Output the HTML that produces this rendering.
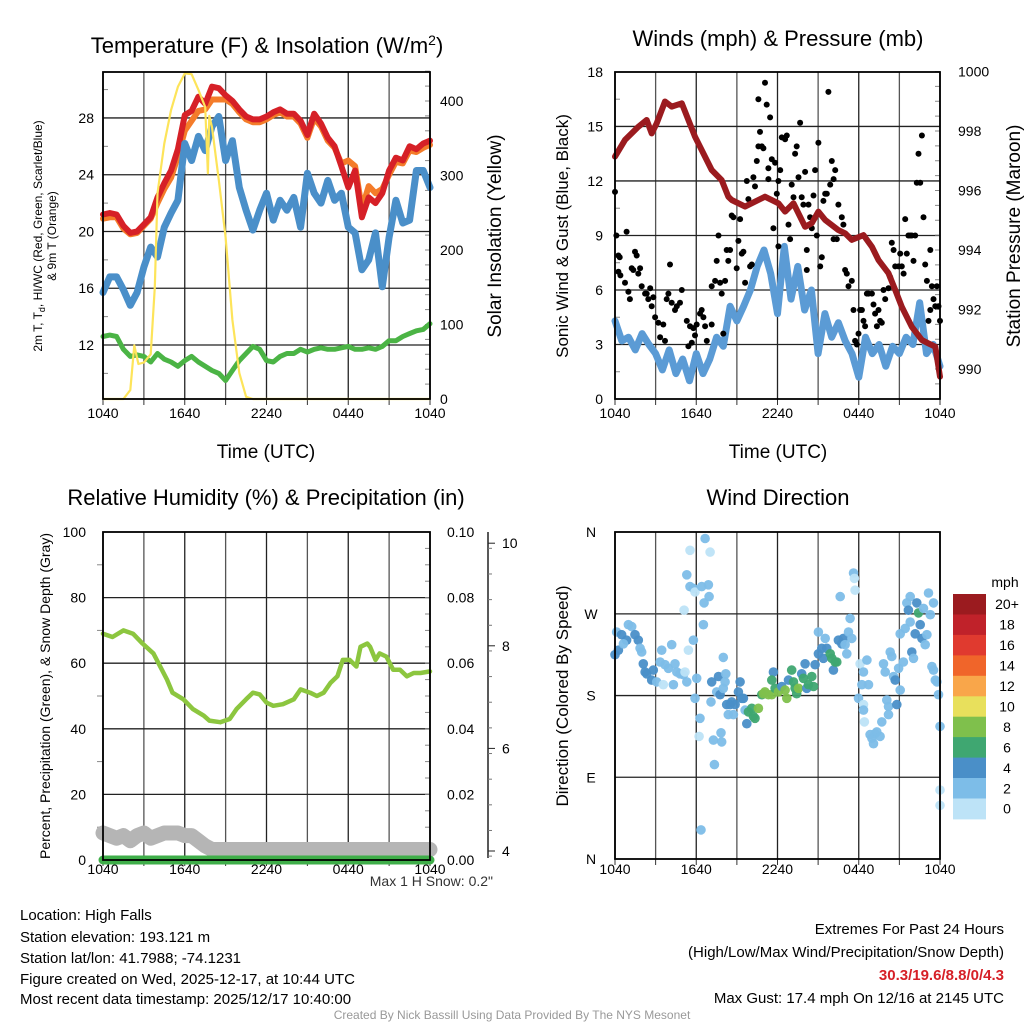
<!DOCTYPE html>
<html><head><meta charset="utf-8">
<style>
html,body{margin:0;padding:0;background:#fff;}
svg{display:block;font-family:"Liberation Sans",Arial,sans-serif;}
</style></head>
<body>
<svg id="s" width="1024" height="1024" viewBox="0 0 1024 1024" xmlns="http://www.w3.org/2000/svg">
<rect x="0" y="0" width="1024" height="1024" fill="#fff"/>
<g id="g1"></g>
<g id="g2"></g>
<g id="g3"></g>
<g id="g4"></g>
<text x="267" y="53" font-size="22" text-anchor="middle">Temperature (F) &amp; Insolation (W/m<tspan dy="-8" font-size="14">2</tspan><tspan dy="8">)</tspan></text>
<text x="778" y="46" font-size="22" text-anchor="middle">Winds (mph) &amp; Pressure (mb)</text>
<text x="266" y="505" font-size="22" text-anchor="middle">Relative Humidity (%) &amp; Precipitation (in)</text>
<text x="778" y="505" font-size="22" text-anchor="middle">Wind Direction</text>
<text x="266" y="458" font-size="19" text-anchor="middle">Time (UTC)</text>
<text x="778" y="458" font-size="19" text-anchor="middle">Time (UTC)</text>
<text transform="translate(42,236) rotate(-90)" font-size="12" text-anchor="middle">2m T, T<tspan dy="3" font-size="9">d</tspan><tspan dy="-3">, HI/WC (Red, Green, Scarlet/Blue)</tspan></text>
<text transform="translate(56,236) rotate(-90)" font-size="12" text-anchor="middle">&amp; 9m T (Orange)</text>
<text transform="translate(501,236) rotate(-90)" font-size="19" text-anchor="middle">Solar Insolation (Yellow)</text>
<text transform="translate(568,236) rotate(-90)" font-size="17" text-anchor="middle">Sonic Wind &amp; Gust (Blue, Black)</text>
<text transform="translate(1020,236) rotate(-90)" font-size="19" text-anchor="middle">Station Pressure (Maroon)</text>
<text transform="translate(50,696) rotate(-90)" font-size="14" text-anchor="middle">Percent, Precipitation (Green), &amp; Snow Depth (Gray)</text>
<text transform="translate(568,696) rotate(-90)" font-size="17" text-anchor="middle">Direction (Colored By Speed)</text>
<text x="493" y="886" font-size="14" text-anchor="end" fill="#333">Max 1 H Snow: 0.2"</text>
<g font-size="15">
<text x="20" y="920">Location: High Falls</text>
<text x="20" y="942">Station elevation: 193.121 m</text>
<text x="20" y="963">Station lat/lon: 41.7988; -74.1231</text>
<text x="20" y="984">Figure created on Wed, 2025-12-17, at 10:44 UTC</text>
<text x="20" y="1004">Most recent data timestamp: 2025/12/17 10:40:00</text>
</g>
<g font-size="15" text-anchor="end">
<text x="1004" y="934">Extremes For Past 24 Hours</text>
<text x="1004" y="957">(High/Low/Max Wind/Precipitation/Snow Depth)</text>
<text x="1004" y="980" fill="#d62027" font-weight="bold">30.3/19.6/8.8/0/4.3</text>
<text x="1004" y="1003">Max Gust: 17.4 mph On 12/16 at 2145 UTC</text>
</g>
<text x="512" y="1019" font-size="12" fill="#999" text-anchor="middle">Created By Nick Bassill Using Data Provided By The NYS Mesonet</text>
</svg>
<script>
// ---- data ----
const halfHours = [0,0.5,1,1.5,2,2.5,3,3.5,4,4.5,5,5.5,6,6.5,7,7.5,8,8.5,9,9.5,10,10.5,11,11.5,12,12.5,13,13.5,14,14.5,15,15.5,16,16.5,17,17.5,18,18.5,19,19.5,20,20.5,21,21.5,22,22.5,23,23.5,24];
const tempRed = [21.2,21.3,21.2,20.4,19.9,20.0,20.5,21.0,22.4,23.4,24.3,25.8,28.2,28.5,29.5,29.0,30.2,30.1,29.6,29.2,28.6,28.1,27.9,27.9,28.1,28.4,28.6,28.3,28.3,27.8,26.8,28.3,27.6,26.6,26.0,24.6,23.1,24.3,21.0,22.4,22.0,22.7,24.3,25.2,25.0,26.0,25.8,26.2,26.4];
const tempOrange = [20.9,21.0,21.0,20.2,19.8,19.9,20.4,20.9,22.0,23.0,23.8,25.3,27.1,27.8,28.5,28.6,29.3,29.3,29.3,29.0,28.4,27.9,27.7,27.7,27.9,28.2,28.4,28.1,28.1,27.6,26.6,28.0,27.4,26.4,25.9,24.8,25.0,24.6,21.6,23.2,22.7,23.0,24.0,24.9,24.8,25.7,25.6,25.9,26.1];
const tempBlue = [15.7,16.8,16.8,15.9,14.8,15.7,17.5,18.9,18.2,20.3,21.3,22.2,26.2,25.0,26.7,25.7,27.4,28.1,25.0,26.4,23.1,21.5,20.1,21.5,22.7,20.8,22.2,21.5,22.4,20.3,24.1,22.7,22.0,23.6,22.2,22.7,20.3,19.9,17.3,18.0,19.9,16.1,19.6,22.2,20.6,20.8,24.3,24.3,23.1];
const tempGreen = [12.6,12.7,12.6,11.7,11.2,11.3,11.2,10.8,11.4,11.0,10.8,10.5,10.9,11.2,10.8,10.5,10.2,10.0,9.5,10.2,10.9,11.4,11.9,11.7,10.9,10.8,11.2,11.4,11.4,11.7,11.5,11.7,11.8,11.7,11.7,11.8,11.9,11.7,11.7,11.8,11.7,11.9,12.3,12.3,12.6,12.8,13.0,13.1,13.5];
const solarHours = [0,1.5,2,2.3,2.6,3,3.5,3.8,4,4.5,5,5.5,6,6.5,7,7.5,7.7,7.8,8,8.5,9,9.5,10,10.5,11,24];
const solarVals = [0,0,12,72,47,49,60,150,276,343,388,419,437,436,415,392,303,380,365,294,217,106,35,3,0,0];
const windBlue = [4.3,3.2,3.4,2.7,3.6,3.0,2.5,1.6,2.7,1.4,2.2,1.0,2.5,1.4,2.2,3.4,2.9,5.1,4.3,5.1,6.0,7.3,8.2,6.9,4.7,8.4,5.5,7.3,4.9,6.0,2.5,4.7,3.4,4.2,3.2,2.5,1.2,3.4,2.5,3.0,1.8,2.9,2.5,3.4,3.0,5.3,2.5,3.0,1.8];
const presHours = [0,0.74,1.72,2.34,2.71,3.08,3.69,4.19,4.93,5.91,7.14,7.88,8.37,8.62,9.61,11.08,12.07,12.56,13.18,14.04,14.53,15.02,15.52,16.5,16.99,17.49,18.35,18.97,19.46,20.2,20.69,21.18,21.92,22.66,23.15,23.65,24];
const presVals = [997.14,997.70,998.14,998.37,997.92,998.26,998.99,998.82,998.93,997.81,996.69,996.35,995.79,995.68,995.46,995.79,995.57,995.29,995.57,994.78,994.90,995.29,995.01,994.67,994.56,994.34,994.50,994.11,993.66,993.22,992.66,992.09,991.42,990.97,990.86,990.75,989.74];
const gustHours = [0,0.1,0.25,0.35,0.25,0.4,0.74,0.86,0.99,1.1,1.23,1.35,1.48,1.6,1.72,1.85,1.97,2.22,2.34,2.46,2.6,2.71,2.83,2.96,3.2,3.33,3.57,3.69,3.82,3.94,4.06,4.19,4.43,4.56,4.8,4.93,5.3,5.42,5.54,5.67,5.79,5.91,6.03,6.28,6.4,6.53,6.65,6.78,7.14,7.14,7.39,7.51,7.64,7.76,7.88,8.0,8.13,8.25,8.37,8.5,8.62,8.74,8.99,9.11,9.24,9.36,9.48,9.61,9.73,9.85,9.98,10.1,10.22,10.34,10.47,10.59,10.59,10.71,10.84,10.96,11.08,11.2,11.33,11.33,11.45,11.58,11.7,11.82,11.95,12.07,12.2,12.07,12.32,12.56,12.69,12.81,12.93,13.05,13.18,13.3,13.42,13.55,13.67,13.79,13.91,14.04,14.16,14.16,14.29,14.41,14.53,14.66,14.78,14.9,15.02,15.15,15.27,15.39,15.52,15.64,15.76,15.89,16.01,16.14,16.26,16.14,16.38,16.5,16.75,16.87,16.99,17.12,17.24,17.49,17.61,17.73,17.86,17.98,18.1,18.23,18.35,18.47,18.6,18.72,18.97,19.09,19.21,19.34,19.46,19.58,19.7,19.83,19.95,20.2,20.32,20.44,20.57,20.69,20.94,21.06,21.18,21.31,21.43,21.55,21.67,21.8,21.92,22.04,22.17,22.29,22.41,22.54,22.66,22.78,22.91,23.03,23.15,23.28,23.28,23.4,23.52,23.65,23.77,23.89,24];
const gustMph = [11.4,9.0,7.9,7.8,7.0,6.8,6.4,9.2,5.9,5.5,7.2,7.1,8.1,7.9,6.9,7.2,6.2,5.8,5.8,5.5,6.1,5.1,5.6,4.5,4.2,3.4,4.1,3.2,5.5,5.8,7.4,5.3,4.9,5.1,5.3,6.0,4.3,2.9,4.0,3.1,3.9,3.5,4.1,4.7,4.9,4.5,4.0,3.2,4.1,6.2,6.5,7.6,9.0,6.4,5.8,3.6,6.5,8.2,7.6,8.2,10.1,10.0,7.2,8.7,9.9,8.0,8.1,6.4,12.0,11.0,7.3,7.4,12.2,11.7,13.1,16.5,13.9,14.7,13.9,13.8,17.4,16.2,12.7,12.1,15.5,13.2,9.4,13.0,11.3,12.0,12.6,8.4,14.4,14.3,14.5,9.6,8.8,11.8,11.1,13.5,13.9,12.2,15.2,11.1,10.7,12.5,8.2,7.1,10.7,10.0,9.4,11.2,12.6,9.0,14.1,7.3,7.8,10.9,11.3,11.3,16.9,11.8,13.1,12.1,12.6,8.8,8.8,10.7,10.0,9.6,7.1,6.9,6.2,6.5,4.9,3.2,3.0,3.6,4.9,4.9,4.3,4.0,5.8,5.8,5.8,5.2,4.7,4.0,4.9,4.3,4.2,6.0,5.5,6.1,6.7,8.6,8.2,7.3,7.3,8.0,7.3,6.9,9.9,8.0,9.0,9.0,9.0,7.6,9.0,11.9,13.5,11.9,14.5,10.0,7.4,6.5,4.3,4.9,8.2,6.2,5.5,5.1,6.2,5.1,4.3];
const rhHours = [0,0.7,1.5,2.2,2.9,3.7,4.2,4.7,5.1,5.9,6.6,7.4,7.8,8.6,9.3,9.8,10.5,11.0,11.5,12.0,12.5,13.2,14.0,14.5,15.2,15.7,16.2,16.7,17.2,17.6,18.1,18.6,18.9,19.4,19.6,20.0,20.3,20.8,21.3,21.8,22.3,22.8,23.3,24];
const rhVals = [69,68,70,69,66,63,59,55,51,49,46,44,42.5,42,43,46,49,51,50.5,48,47,47.5,49,52,51,50,51,54,56,61,61,59,65,66,65,61,63,62,58,58,56,57,57,57.5];
const snowHours = [0,0.5,1,1.5,2,2.5,3,3.5,4,4.5,5,5.5,6,6.5,7,7.5,8,24];
const snowDepth = [4.35,4.3,4.25,4.3,4.2,4.3,4.35,4.25,4.3,4.35,4.35,4.35,4.3,4.3,4.2,4.1,4.03,4.03];
const precipHours = [0,24];
const precipVals = [0,0];
const dirHours = [0,0.25,0.12,0.49,0.86,0.62,0.99,1.23,1.48,1.72,1.85,1.97,2.09,2.22,2.34,2.71,2.83,3.08,3.33,3.45,3.57,3.69,3.94,4.19,4.31,4.43,4.56,4.80,5.05,5.17,5.30,5.30,5.42,5.54,5.54,5.79,5.79,5.91,5.10,6.03,5.91,6.28,6.21,6.35,6.40,6.53,6.58,6.65,6.90,6.95,7.02,7.09,7.14,7.27,7.34,7.51,7.64,7.76,7.83,7.88,8.00,8.00,8.13,8.18,8.25,8.37,8.50,8.62,8.74,8.87,9.11,9.24,9.36,9.48,9.61,9.73,9.85,10.10,10.22,10.34,10.59,10.84,10.96,11.08,11.33,11.58,11.70,11.58,11.82,12.07,12.32,12.56,12.69,12.81,13.05,13.18,13.30,13.42,13.55,13.79,13.91,14.04,14.16,14.29,14.53,14.66,14.78,15.02,15.02,15.27,15.39,15.52,15.64,15.89,16.01,16.13,16.26,16.38,16.50,16.63,16.75,16.87,16.99,17.12,17.24,17.36,17.49,17.61,17.68,17.73,17.98,18.10,18.23,18.35,18.35,18.35,18.42,18.60,18.72,18.84,18.97,19.09,19.21,19.33,19.58,19.70,19.83,19.95,20.07,20.20,20.20,20.32,20.44,20.57,20.69,20.81,20.94,21.06,21.06,21.30,21.43,21.55,21.67,21.80,21.80,21.92,22.04,22.17,22.29,22.41,22.54,22.66,22.78,22.91,23.03,23.15,23.28,23.40,23.52,23.52,23.65,23.77,23.89,24.0,24.0,24.0];
const dirDeg = [225,230,250,247,241,237,258,256,247,241,232,228,215,206,204,197,208,195,217,230,192,214,210,236,192,215,206,204,203,206,195,313,230,340,300,298,241,294,274,199,177,155,135,32,300,258,282,353,302,289,338,173,195,131,104,184,201,181,139,129,188,222,195,204,170,159,170,173,159,170,184,195,177,177,164,149,162,166,157,155,166,181,182,184,181,181,206,197,188,184,190,186,177,197,208,195,188,182,188,204,199,215,188,192,201,190,214,226,250,232,221,243,232,226,221,208,217,217,241,289,237,243,236,226,250,265,243,315,309,296,177,215,192,206,170,164,151,219,192,137,133,127,138,140,135,151,215,206,175,168,159,228,223,201,197,170,210,186,248,217,254,282,274,289,261,228,221,248,282,271,258,243,276,236,247,293,269,212,282,208,197,195,181,146,76,59];
const dirSpeed = [4.5,4.5,2.5,4.5,4.5,2.5,2.5,2.5,4.5,4.5,2.5,2.5,4.5,4.5,4.5,4.5,4.5,2.5,2.5,2.5,0.8,2.5,2.5,2.5,2.5,2.5,2.5,2.5,2.5,0.8,2.5,2.5,0.8,0.8,2.5,2.5,2.5,0.8,0.8,2.5,2.5,2.5,0.8,2.5,2.5,2.5,2.5,2.5,2.5,2.5,0.8,2.5,4.5,2.5,2.5,2.5,4.5,4.5,2.5,2.5,2.5,2.5,2.5,2.5,4.5,2.5,4.5,4.5,2.5,4.5,4.5,4.5,4.5,4.5,2.5,4.5,6.5,6.5,6.5,6.5,8.5,6.5,8.5,8.5,8.5,8.5,4.5,6.5,6.5,8.5,4.5,8.5,8.5,4.5,6.5,6.5,6.5,6.5,8.5,4.5,6.5,4.5,4.5,6.5,6.5,6.5,4.5,4.5,2.5,4.5,4.5,2.5,4.5,6.5,6.5,4.5,6.5,6.5,4.5,2.5,4.5,4.5,2.5,2.5,2.5,2.5,2.5,2.5,0.8,0.8,2.5,0.8,2.5,2.5,0.8,2.5,0.8,2.5,2.5,2.5,2.5,2.5,2.5,2.5,2.5,2.5,2.5,2.5,2.5,2.5,2.5,2.5,2.5,2.5,4.5,4.5,2.5,2.5,2.5,2.5,2.5,2.5,4.5,2.5,2.5,4.5,2.5,4.5,4.5,6.5,4.5,4.5,2.5,2.5,2.5,2.5,2.5,2.5,2.5,2.5,2.5,2.5,2.5,2.5,0.8,0.8];
const xTickLabels = ["1040","1640","2240","0440","1040"];
const tempTicks = [12,16,20,24,28];
const solarTicks = [0,100,200,300,400];
const windTicks = [0,3,6,9,12,15,18];
const presTicks = [990,992,994,996,998,1000];
const rhTicks = [0,20,40,60,80,100];
const precipTicks = ["0.00","0.02","0.04","0.06","0.08","0.10"];
const snowTicks = [4,6,8,10];
const dirTicks = ["N","E","S","W","N"];
const speedBins = ["0","2","4","6","8","10","12","14","16","18","20+"];
const speedColors = ["#bde3f7","#7dbde8","#4a8fc8","#3fa771","#7fc04c","#e8e05c","#f9a64a","#f0652a","#e03a2f","#c0222a","#9b1b1f"];

// ---- helpers ----
const NS="http://www.w3.org/2000/svg";
function mk(parent,tag,attrs){const e=document.createElementNS(NS,tag);for(const k in attrs)e.setAttribute(k,attrs[k]);parent.appendChild(e);return e;}
function txt(parent,x,y,s,size,anchor){const t=mk(parent,'text',{x:x,y:y,'font-size':size,'text-anchor':anchor});t.textContent=s;return t;}
function hx(x0,x1){return h=>x0+h*(x1-x0)/24;}
function pathOf(xs,ys,fx,fy){let d='';for(let i=0;i<xs.length;i++){d+=(i?'L':'M')+fx(xs[i]).toFixed(1)+','+fy(ys[i]).toFixed(1);}return d;}
function frame(g,x0,y0,x1,y1,hy){
  for(let i=0;i<=8;i++){const x=x0+i*(x1-x0)/8;const l=mk(g,'line',{x1:x,y1:y0,x2:x,y2:y1,stroke:(i%2?'#555':'#222'),'stroke-width':1.3});
    
    
    mk(g,'line',{x1:x,y1:y1,x2:x,y2:y1+6,stroke:'#333','stroke-width':1});}
  hy.forEach(y=>{const l=mk(g,'line',{x1:x0,y1:y,x2:x1,y2:y,stroke:'#222','stroke-width':1.3});
    
    });
}
function border(g,x0,y0,x1,y1){const r=mk(g,'rect',{x:x0,y:y0,width:x1-x0,height:y1-y0,fill:'none',stroke:'#000','stroke-width':1.8});
  
  }
function xlabels(g,x0,x1,y){const fx=hx(x0,x1);xTickLabels.forEach((s,i)=>{const t=txt(g,fx(i*6),y,s,14,'middle');
  
  });}
function dot(g,x,y,r,fill,op){return mk(g,'circle',{cx:x.toFixed(1),cy:y.toFixed(1),r:r,fill:fill,'fill-opacity':op});}

// ---- panel 1 ----
(function(){
 const g=document.getElementById('g1');const x0=103,x1=430,y0=72,y1=399;
 const fx=hx(x0,x1);const ft=t=>345-(t-12)*14.19;const fs=w=>399-w*0.745;
 frame(g,x0,y0,x1,y1,tempTicks.map(ft));
 for(let t=10;t<=30;t+=2){if(tempTicks.indexOf(t)<0){mk(g,'line',{x1:x0,y1:ft(t),x2:x0+5,y2:ft(t),stroke:'#888'});}}
 for(let w=0;w<=440;w+=20){mk(g,'line',{x1:x1,y1:fs(w),x2:x1-5,y2:fs(w),stroke:'#888'});}
 let p=mk(g,'path',{d:pathOf(halfHours,tempOrange,fx,ft),fill:'none',stroke:'#f47c2a','stroke-width':6,'stroke-linejoin':'round','stroke-linecap':'round'});
 
 
 p=mk(g,'path',{d:pathOf(halfHours,tempRed,fx,ft),fill:'none',stroke:'#d62027','stroke-width':6,'stroke-linejoin':'round','stroke-linecap':'round'});
 
 
 p=mk(g,'path',{d:pathOf(halfHours,tempBlue,fx,ft),fill:'none',stroke:'#4a8fc9','stroke-width':7,'stroke-linejoin':'round','stroke-linecap':'round'});
 
 
 p=mk(g,'path',{d:pathOf(halfHours,tempGreen,fx,ft),fill:'none',stroke:'#4bb445','stroke-width':5,'stroke-linejoin':'round','stroke-linecap':'round'});
 
 
 p=mk(g,'path',{d:pathOf(solarHours,solarVals,fx,fs),fill:'none',stroke:'#fde45a','stroke-width':2.2,'stroke-linejoin':'round'});
 
 
 border(g,x0,y0,x1,y1);
 tempTicks.forEach(t=>{const e=txt(g,94,ft(t)+5,String(t),14,'end');
  
  });
 solarTicks.forEach(w=>{const e=txt(g,440,fs(w)+5,String(w),14,'start');
  
  });
 xlabels(g,x0,x1,418);
})();

// ---- panel 2 ----
(function(){
 const g=document.getElementById('g2');const x0=615,x1=940,y0=72,y1=399;
 const fx=hx(x0,x1);const fw=w=>399-w*18.17;const fp=p=>369-(p-990)*29.75;
 frame(g,x0,y0,x1,y1,windTicks.slice(1,6).map(fw));
 for(let w=1.5;w<18;w+=3){mk(g,'line',{x1:x0,y1:fw(w),x2:x0+5,y2:fw(w),stroke:'#888'});}
 for(let p=989.5;p<=1000;p+=0.5){mk(g,'line',{x1:x1,y1:fp(p),x2:x1-5,y2:fp(p),stroke:'#888'});}
 let p=mk(g,'path',{d:pathOf(halfHours,windBlue,fx,fw),fill:'none',stroke:'#5b9bd5','stroke-width':7,'stroke-linejoin':'round','stroke-linecap':'round'});
 
 
 for(let i=0;i<gustHours.length;i++){const c=dot(g,fx(gustHours[i]),fw(gustMph[i]),3,'#000',1);
  
  }
 p=mk(g,'path',{d:pathOf(presHours,presVals,fx,fp),fill:'none',stroke:'#9b1b1f','stroke-width':6,'stroke-linejoin':'round','stroke-linecap':'round'});
 
 
 border(g,x0,y0,x1,y1);
 windTicks.forEach(w=>{const e=txt(g,603,fw(w)+5,String(w),14,'end');
  
  });
 presTicks.forEach(v=>{const e=txt(g,958,fp(v)+5,String(v),14,'start');
  
  });
 xlabels(g,x0,x1,418);
})();

// ---- panel 3 ----
(function(){
 const g=document.getElementById('g3');const x0=103,x1=430,y0=532,y1=860;
 const fx=hx(x0,x1);const fr=r=>860-r*3.28;const fpr=p=>860-p*3280;const fsn=s=>851-(s-4)*51.3;
 frame(g,x0,y0,x1,y1,rhTicks.slice(1,5).map(fr));
 for(let r=10;r<100;r+=20){mk(g,'line',{x1:x0,y1:fr(r),x2:x0-6,y2:fr(r),stroke:'#888'});}
 for(let v=0;v<=100;v+=5){mk(g,'line',{x1:x1,y1:fr(v),x2:x1-5,y2:fr(v),stroke:'#888'});}
 let p=mk(g,'path',{d:pathOf(rhHours,rhVals,fx,fr),fill:'none',stroke:'#8cc63f','stroke-width':4.5,'stroke-linejoin':'round','stroke-linecap':'round'});
 
 
 p=mk(g,'path',{d:pathOf(snowHours,snowDepth,fx,fsn),fill:'none',stroke:'#b5b5b5','stroke-width':15,'stroke-linejoin':'round','stroke-linecap':'round'});
 
 
 p=mk(g,'path',{d:pathOf(precipHours,precipVals,fx,fpr),fill:'none',stroke:'#3fae49','stroke-width':9,'stroke-linecap':'round'});
 
 
 border(g,x0,y0,x1,y1);
 rhTicks.forEach(r=>{const e=txt(g,86,fr(r)+5,String(r),14,'end');
  
  });
 precipTicks.forEach(s=>{const e=txt(g,447,fpr(parseFloat(s))+5,s,14,'start');
  
  });
 const ax=mk(g,'line',{x1:488,y1:532,x2:488,y2:858,stroke:'#222','stroke-width':1.5});
 
 
 for(let s=3.9;s<=10.3;s+=0.5){mk(g,'line',{x1:488,y1:fsn(s),x2:492,y2:fsn(s),stroke:'#777'});}
 snowTicks.forEach(s=>{mk(g,'line',{x1:488,y1:fsn(s),x2:495,y2:fsn(s),stroke:'#222'});const e=txt(g,502,fsn(s)+5,String(s),14,'start');
  
  });
 xlabels(g,x0,x1,874);
})();

// ---- panel 4 ----
(function(){
 const g=document.getElementById('g4');const x0=615,x1=940,y0=532,y1=859;
 const fx=hx(x0,x1);const fd=d=>859-d*0.908;
 frame(g,x0,y0,x1,y1,[90,180,270].map(fd));
 function col(s){let i=Math.min(10,Math.floor(s/2));return speedColors[i];}
 for(let i=0;i<dirHours.length;i++){const c=dot(g,fx(dirHours[i]),fd(dirDeg[i]),4.8,col(dirSpeed[i]),0.95);
  
  }
 border(g,x0,y0,x1,y1);
 dirTicks.forEach((s,i)=>{const e=txt(g,591,fd(i*90)+5,s,14,'middle');
  
  });
 xlabels(g,x0,x1,874);
 const lg=mk(g,'g',{});
 
 
 const t=txt(lg,1005,587,'mph',14,'middle');
 
 
 const bh=20.45;
 for(let i=0;i<speedBins.length;i++){const k=speedBins.length-1-i;const y=594+i*bh;
  const r=mk(lg,'rect',{x:953,y:y.toFixed(1),width:33,height:(bh+0.5).toFixed(1),fill:speedColors[k]});
  
  
  const e=txt(lg,1007,y+bh/2+5,speedBins[k],14,'middle');
  
  }
})();
</script>
</body></html>
